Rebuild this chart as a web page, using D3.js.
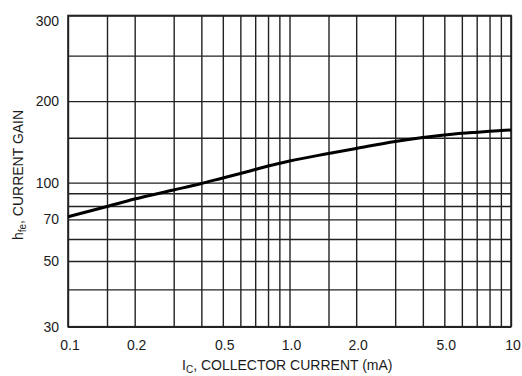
<!DOCTYPE html>
<html>
<head>
<meta charset="utf-8">
<script src="https://cdn.jsdelivr.net/npm/d3@7"></script>
<style>
  html, body { margin: 0; padding: 0; background: #fff; }
  svg { display: block; }
  .lbl { font-family: "Liberation Sans Narrow", "Arial Narrow", "Liberation Sans", Arial, sans-serif; fill: #1b1b1b; }
</style>
</head>
<body>
<svg id="chart" width="522" height="376"></svg>
<script>
// ---- data ----
const currentMA = [0.1, 0.15, 0.2, 0.3, 0.4, 0.5, 0.6, 0.7, 0.8, 1.0, 1.5, 2.0, 3.0, 4.0, 5.0, 6.0, 7.0, 8.0, 9.0, 10];
const hfe       = [71.8, 79.6, 85.3, 92.9, 99.1, 104.3, 108.6, 112.6, 116.2, 121.6, 130.1, 136.2, 145.1, 150.3, 153.3, 155.4, 156.7, 157.8, 158.7, 159.5];
const xGridValues = [0.1, 0.15, 0.2, 0.3, 0.4, 0.5, 0.6, 0.7, 0.8, 0.9, 1, 1.5, 2, 3, 4, 5, 6, 7, 8, 9, 10];
const xTickValues = [0.1, 0.2, 0.5, 1, 2, 5, 10];
const xTickLabels = ["0.1", "0.2", "0.5", "1.0", "2.0", "5.0", "10"];
const yGridValues = [30, 40, 50, 60, 70, 80, 90, 100, 150, 200, 250, 300];
const yTickValues = [30, 50, 70, 100, 200, 300];
const yTickLabels = ["30", "50", "70", "100", "200", "300"];

(function () {
// ---- layout ----
const svg = d3.select("#chart");
const pLeft = 68, pRight = 511, pTop = 15.5, pBottom = 326.7;
const h = pBottom - pTop;

const x = d3.scaleLog().domain([0.1, 10]).range([pLeft, pRight]);
// the printed gain axis is not a uniform log; calibrate it piecewise (fraction of height from bottom)
const yFrac = [0, 0.120, 0.211, 0.282, 0.345, 0.388, 0.429, 0.463, 0.607, 0.725, 0.871, 1];
const y = d3.scaleLog().domain(yGridValues).range(yFrac.map(f => pBottom - f * h));

const gridColor = "#222";

// grid
svg.append("g")
  .attr("transform", `translate(0,${pBottom})`)
  .call(d3.axisBottom(x).tickValues(xGridValues).tickSize(-h).tickFormat(""))
  .call(g => g.select(".domain").remove())
  .call(g => g.selectAll("line").attr("stroke", gridColor).attr("stroke-width", 1.4));

svg.append("g")
  .attr("transform", `translate(${pLeft},0)`)
  .call(d3.axisLeft(y).tickValues(yGridValues).tickSize(-(pRight - pLeft)).tickFormat(""))
  .call(g => g.select(".domain").remove())
  .call(g => g.selectAll("line").attr("stroke", gridColor).attr("stroke-width", 1.4));

// frame
svg.append("rect")
  .attr("x", pLeft).attr("y", pTop)
  .attr("width", pRight - pLeft).attr("height", h)
  .attr("fill", "none").attr("stroke", gridColor).attr("stroke-width", 1.6);

// curve
const pts = currentMA.map((c, i) => [c, hfe[i]]);
svg.append("path")
  .datum(pts)
  .attr("fill", "none")
  .attr("stroke", "#000")
  .attr("stroke-width", 3)
  .attr("d", d3.line().x(d => x(d[0])).y(d => y(d[1])).curve(d3.curveMonotoneX));

// x tick labels
svg.append("g")
  .selectAll("text")
  .data(xTickValues)
  .join("text")
  .attr("class", "lbl")
  .attr("x", d => x(d) + 2)
  .attr("y", 350)
  .attr("text-anchor", "middle")
  .attr("font-size", 14)
  .text((d, i) => xTickLabels[i]);

// y tick labels
svg.append("g")
  .selectAll("text")
  .data(yTickValues)
  .join("text")
  .attr("class", "lbl")
  .attr("x", 59)
  .attr("y", d => Math.max(y(d), 21) + 5)
  .attr("text-anchor", "end")
  .attr("font-size", 14)
  .text((d, i) => yTickLabels[i]);

// x title
const xt = svg.append("text")
  .attr("class", "lbl")
  .attr("x", 182).attr("y", 370)
  .attr("font-size", 14);
xt.append("tspan").text("I");
xt.append("tspan").attr("font-size", 10).attr("dy", 2.5).text("C");
xt.append("tspan").attr("dy", -2.5).text(", COLLECTOR CURRENT (mA)");

// y title
const yt = svg.append("text")
  .attr("class", "lbl")
  .attr("transform", "translate(23,175) rotate(-90)")
  .attr("text-anchor", "middle")
  .attr("font-size", 14);
yt.append("tspan").text("h");
yt.append("tspan").attr("font-size", 10).attr("dy", 2.5).text("fe");
yt.append("tspan").attr("dy", -2.5).text(", CURRENT GAIN");
})();
</script>
</body>
</html>
